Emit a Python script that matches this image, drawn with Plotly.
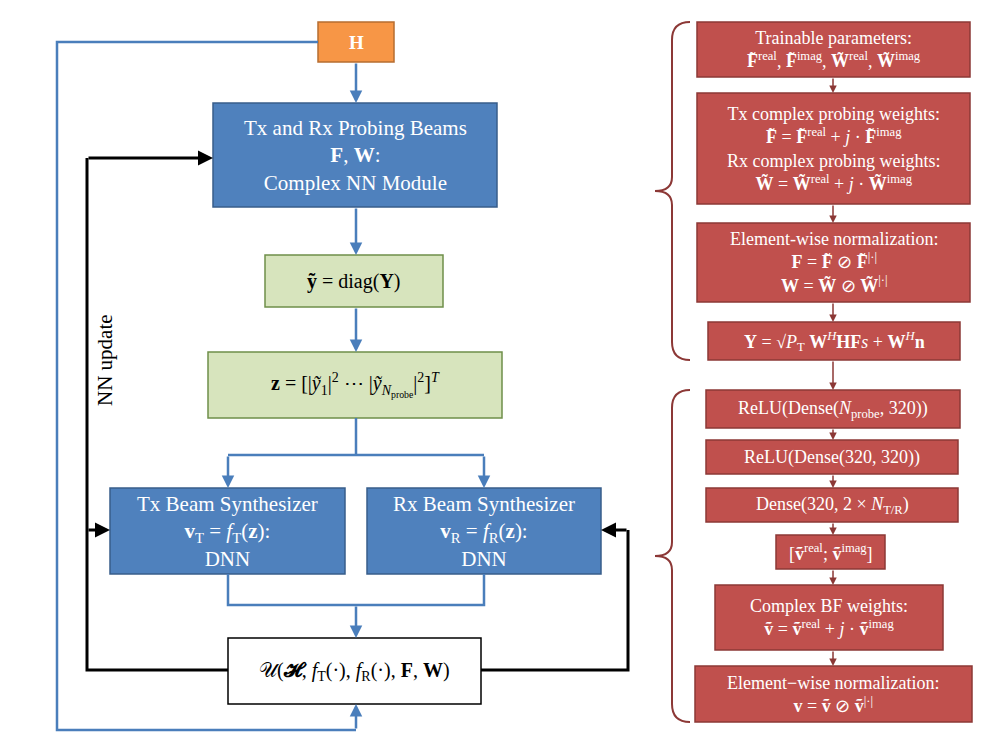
import plotly.graph_objects as go

# box texts
left_texts = [
    "<b>H</b>",
    "Tx and Rx Probing Beams<br><b>F</b>, <b>W</b>:<br>Complex NN Module",
    "<b>ỹ</b> = diag(<b>Y</b>)",
    "<b>z</b> = [|<i>ỹ</i><sub>1</sub>|<sup>2</sup> ⋯ |<i>ỹ</i><sub><i>N</i><sub>probe</sub></sub>|<sup>2</sup>]<sup><i>T</i></sup>",
    "Tx Beam Synthesizer<br><b>v</b><sub>T</sub> = <i>f</i><sub>T</sub>(<b>z</b>):<br>DNN",
    "Rx Beam Synthesizer<br><b>v</b><sub>R</sub> = <i>f</i><sub>R</sub>(<b>z</b>):<br>DNN",
    "𝒰(<b>𝓗</b>, <i>f</i><sub>T</sub>(·), <i>f</i><sub>R</sub>(·), <b>F</b>, <b>W</b>)",
]
right_texts = [
    "Trainable parameters:<br><b>F̃</b><sup>real</sup>, <b>F̃</b><sup>imag</sup>, <b>W̃</b><sup>real</sup>, <b>W̃</b><sup>imag</sup>",
    "Tx complex probing weights:<br><b>F̃</b> = <b>F̃</b><sup>real</sup> + <i>j</i> · <b>F̃</b><sup>imag</sup><br>Rx complex probing weights:<br><b>W̃</b> = <b>W̃</b><sup>real</sup> + <i>j</i> · <b>W̃</b><sup>imag</sup>",
    "Element-wise normalization:<br><b>F</b> = <b>F̃</b> ⊘ <b>F̃</b><sup>|·|</sup><br><b>W</b> = <b>W̃</b> ⊘ <b>W̃</b><sup>|·|</sup>",
    "<b>Y</b> = √<i>P</i><sub>T</sub> <b>W</b><sup><i>H</i></sup><b>HF</b><i>s</i> + <b>W</b><sup><i>H</i></sup><b>n</b>",
    "ReLU(Dense(<i>N</i><sub>probe</sub>, 320))",
    "ReLU(Dense(320, 320))",
    "Dense(320, 2 × <i>N</i><sub>T/R</sub>)",
    "[<b>ṽ</b><sup>real</sup>; <b>ṽ</b><sup>imag</sup>]",
    "Complex BF weights:<br><b>ṽ</b> = <b>ṽ</b><sup>real</sup> + <i>j</i> · <b>ṽ</b><sup>imag</sup>",
    "Element−wise normalization:<br><b>v</b> = <b>ṽ</b> ⊘ <b>ṽ</b><sup>|·|</sup>",
]

ORANGE, BLUE, GREEN, RED = "#F79646", "#4F81BD", "#D7E4BD", "#C0504D"
LINE_BLUE, DARKRED = "#4A7EBB", "#8C3836"
FONT = "Liberation Serif"

left_boxes = [  # x0, y0, x1, y1, fill, border, text colour, size
    (318, 22, 394, 62, ORANGE, "#B66D31", "white", 19),
    (213, 103, 497, 207, BLUE, "#385D8A", "white", 21),
    (265, 255, 443, 307, GREEN, "#6F8F4A", "black", 20),
    (208, 352, 502, 418, GREEN, "#6F8F4A", "black", 20),
    (110, 488, 345, 574, BLUE, "#385D8A", "white", 21),
    (367, 488, 601, 574, BLUE, "#385D8A", "white", 21),
    (228, 638, 481, 704, "white", "black", "black", 20),
]
right_boxes = [
    (697, 22, 970, 77), (697, 93, 970, 204), (697, 223, 970, 302),
    (708, 322, 960, 360), (706, 390, 960, 428), (706, 440, 958, 474),
    (706, 488, 958, 522), (776, 535, 885, 569), (715, 585, 943, 650),
    (695, 666, 972, 722),
]

fig = go.Figure()
shapes, anns = [], []

def box(x0, y0, x1, y1, fill, border, text, color, size):
    shapes.append(dict(type="rect", x0=x0, y0=y0, x1=x1, y1=y1, fillcolor=fill,
                       line=dict(color=border, width=1.5), layer="below"))
    anns.append(dict(x=(x0 + x1) / 2, y=(y0 + y1) / 2, text=text, showarrow=False,
                     font=dict(family=FONT, size=size, color=color), align="center"))

def line(pts, color, width=2.5):
    path = "M " + " L ".join(f"{x},{y}" for x, y in pts)
    shapes.append(dict(type="path", path=path, line=dict(color=color, width=width)))

def arrow(x0, y0, x1, y1, color, width=2.5, head=2):
    anns.append(dict(x=x1, y=y1, ax=x0, ay=y0, xref="x", yref="y", axref="x", ayref="y",
                     text="", showarrow=True, arrowhead=head, arrowsize=1,
                     arrowwidth=width, arrowcolor=color))

for (x0, y0, x1, y1, f, b, c, s), t in zip(left_boxes, left_texts):
    box(x0, y0, x1, y1, f, b, t, c, s)
for (x0, y0, x1, y1), t in zip(right_boxes, right_texts):
    box(x0, y0, x1, y1, RED, DARKRED, t, "white", 18)

# blue flow
arrow(356, 62, 356, 103, LINE_BLUE)
arrow(356, 207, 356, 255, LINE_BLUE)
arrow(356, 307, 356, 352, LINE_BLUE)
line([(356, 418), (356, 455)], LINE_BLUE)
line([(228, 455), (484, 455)], LINE_BLUE)
arrow(228, 455, 228, 488, LINE_BLUE)
arrow(484, 455, 484, 488, LINE_BLUE)
line([(228, 574), (228, 605), (484, 605), (484, 574)], LINE_BLUE)
arrow(356, 605, 356, 638, LINE_BLUE)
line([(318, 42), (57, 42), (57, 730), (356, 730)], LINE_BLUE)
arrow(356, 730, 356, 704, LINE_BLUE)

# black feedback
line([(228, 670), (87, 670), (87, 158)], "black", 3)
arrow(87, 158, 213, 158, "black", 3)
arrow(87, 530, 110, 530, "black", 3)
line([(481, 670), (628, 670), (628, 530)], "black", 3)
arrow(628, 530, 601, 530, "black", 3)
anns.append(dict(x=105, y=360, text="NN update", textangle=-90, showarrow=False,
                 font=dict(family=FONT, size=21, color="black")))

# red connectors
for (a, b) in zip(right_boxes[:-1], right_boxes[1:]):
    arrow(833, a[3], 833, b[1], DARKRED, 1.5, 2)

# braces
for y0, y1 in [(22, 360), (390, 722)]:
    m = (y0 + y1) / 2
    shapes.append(dict(type="path", line=dict(color=DARKRED, width=2),
                       path=f"M 690,{y0} Q 672,{y0} 672,{y0+18} L 672,{m-14} Q 672,{m} 655,{m} "
                            f"Q 672,{m} 672,{m+14} L 672,{y1-18} Q 672,{y1} 690,{y1}"))

# page body adds an 8px margin, so offset the ranges
fig.update_layout(width=988, height=752, margin=dict(l=0, r=0, t=0, b=0),
                  plot_bgcolor="white", paper_bgcolor="white",
                  shapes=shapes, annotations=anns, showlegend=False,
                  xaxis=dict(range=[8, 996], visible=False, fixedrange=True),
                  yaxis=dict(range=[760, 8], visible=False, fixedrange=True))
fig.write_html("out.html")
